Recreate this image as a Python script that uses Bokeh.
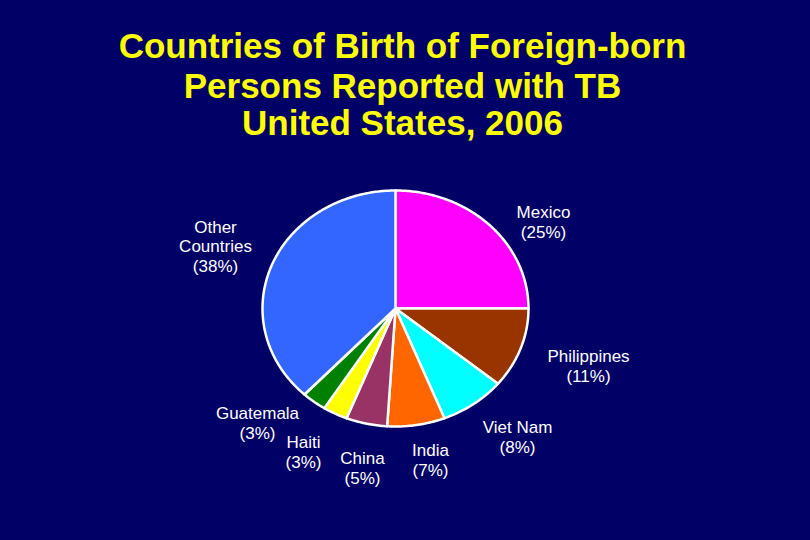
import numpy as np
from bokeh.plotting import figure
from bokeh.models import Range1d
from bokeh.core.properties import value
from bokeh.embed import file_html
from bokeh.resources import INLINE

# ---- data ----
countries = ["Mexico", "Philippines", "Viet Nam", "India", "China", "Haiti", "Guatemala", "Other Countries"]
percents = [25, 11, 8, 7, 5, 3, 3, 38]
title_lines = ["Countries of Birth of Foreign-born", "Persons Reported with TB", "United States, 2006"]

# ---- styles / layout ----
palette = ["#FF00FF", "#993300", "#00FFFF", "#FF6600", "#993366", "#FFFF00", "#008000", "#3366FF"]
BG = "#000066"
W, H = 810, 540
M = 8
cx, cy = 395, H - 308
rx, ry = 133, 118

# label layout: (x, page-center y per line, name lines)
label_layout = {
    "Mexico": (543, [212, 232], ["Mexico"]),
    "Philippines": (588, [356, 376], ["Philippines"]),
    "Viet Nam": (517, [427, 447], ["Viet Nam"]),
    "India": (430, [450, 470], ["India"]),
    "China": (362, [458, 478], ["China"]),
    "Haiti": (303, [442, 462], ["Haiti"]),
    "Guatemala": (257, [413, 433], ["Guatemala"]),
    "Other Countries": (215, [227, 246, 266], ["Other", "Countries"]),
}

p = figure(width=W - 2 * M, height=H - 2 * M, output_backend="svg", toolbar_location=None,
           x_range=Range1d(0, W - 2 * M), y_range=Range1d(2 * M, H),
           x_axis_type=None, y_axis_type=None, min_border=0)
p.background_fill_color = BG
p.border_fill_color = BG
p.outline_line_color = None
p.grid.visible = False

# ---- elliptical pie, clockwise from 12 o'clock ----
fr = np.array(percents, dtype=float) / sum(percents)
ends = np.cumsum(fr) * 2 * np.pi
starts = ends - fr * 2 * np.pi
xs, ys = [], []
for a0, a1 in zip(starts, ends):
    t = np.linspace(a0, a1, max(8, int((a1 - a0) * 80)))
    xs.append(np.concatenate([[cx], cx + rx * np.sin(t)]).tolist())
    ys.append(np.concatenate([[cy], cy + ry * np.cos(t)]).tolist())
p.patches(xs=xs, ys=ys, fill_color=palette, line_color="white", line_width=2.5, line_join="round")

# ---- labels ----
lx, ly, lt = [], [], []
for c, pc in zip(countries, percents):
    x0, ycs, names = label_layout[c]
    lines = names + [f"({pc}%)"]
    for yc, txt in zip(ycs, lines):
        lx.append(x0)
        ly.append(H - yc)
        lt.append(txt)
p.text(x=lx, y=ly, text=lt, text_font=value("Liberation Sans"), text_font_size="17px",
       text_color="white", text_align="center", text_baseline="middle")

# ---- title ----
tc = [45, 85, 122]
p.text(x=[402] * 3, y=[H - c for c in tc], text=title_lines, text_font=value("Liberation Sans"),
       text_font_style="bold", text_font_size="35px", text_color="#FFFF00",
       text_align="center", text_baseline="middle")

html = file_html(p, INLINE)
html = html.replace("</head>", "<style>html,body{background-color:%s;}</style></head>" % BG, 1)
open("out.html", "w").write(html)
